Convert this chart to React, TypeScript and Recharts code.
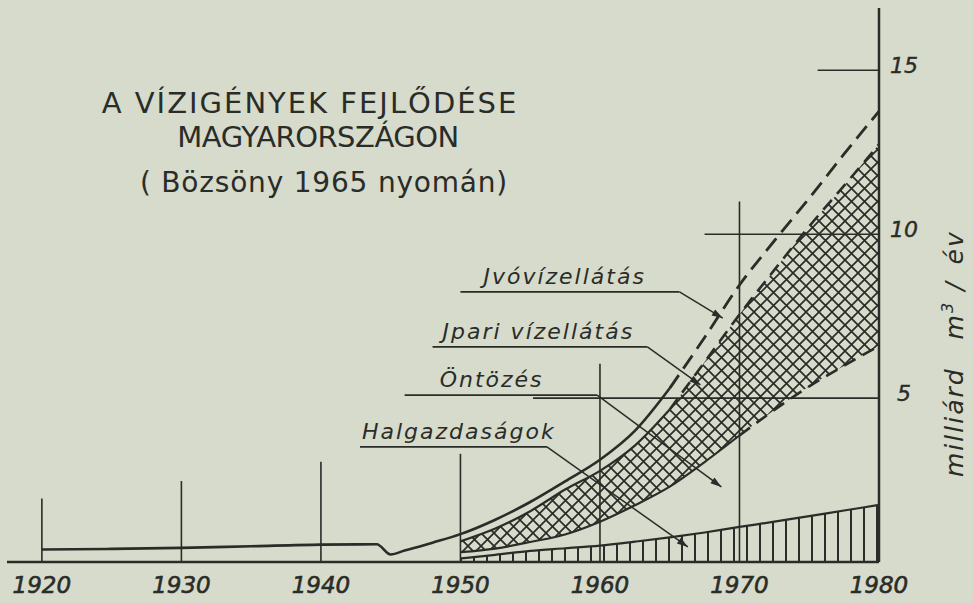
import { Area, ComposedChart, Line, ReferenceLine, XAxis, YAxis } from 'recharts';

// total demand before the sector split (milliárd m3/év)
const earlyYears = [1920, 1925, 1930, 1935, 1940, 1944, 1945, 1946, 1948];
const earlyTotal = [0.38, 0.4, 0.43, 0.48, 0.53, 0.54, 0.23, 0.35, 0.59];

// sector demands from 1950 on (milliárd m3/év)
const years = [1950, 1952.5, 1955, 1957.5, 1960, 1962.5, 1965, 1967.5, 1970, 1972.5, 1975, 1977.5, 1980];
const halgazdasagok = [0.11, 0.22, 0.34, 0.42, 0.5, 0.62, 0.75, 0.9, 1.07, 1.23, 1.4, 1.57, 1.74];
const ontozes = [0.19, 0.19, 0.27, 0.42, 0.73, 1.11, 1.55, 2.15, 2.79, 3.41, 3.96, 4.42, 4.85];
const ipari = [0.33, 0.61, 0.94, 1.37, 1.55, 1.82, 2.35, 3.05, 3.69, 4.27, 4.88, 5.49, 6.15];
const ivoviz = [0.22, 0.27, 0.28, 0.25, 0.34, 0.45, 0.65, 0.75, 0.9, 0.89, 0.86, 0.97, 1.01];

const xTicks = [1920, 1930, 1940, 1950, 1960, 1970, 1980];
const yTicks = [5, 10, 15];
const gridTops = [1.94, 2.47, 3.06, 3.3, 6.05, 11.0];
const levelLines = [
  { value: 5, from: 1955.2 },
  { value: 10, from: 1967.5 },
  { value: 15, from: 1975.6 },
];

const leaders = [
  { text: 'Jvóvízellátás', from: 1950.0, bend: 1965.7, level: 8.24, tipYear: 1968.8, tipValue: 7.44, dx: 23 },
  { text: 'Jpari vízellátás', from: 1948.0, bend: 1963.4, level: 6.56, tipYear: 1967.2, tipValue: 5.4, dx: 10 },
  { text: 'Öntözés', from: 1946.0, bend: 1959.8, level: 5.09, tipYear: 1968.7, tipValue: 2.29, dx: 35 },
  { text: 'Halgazdaságok', from: 1942.8, bend: 1956.2, level: 3.51, tipYear: 1966.3, tipValue: 0.46, dx: 2 },
];

const rows: any[] = [
  ...earlyYears.map((year, i) => ({ year, total: earlyTotal[i] })),
  ...years.map((year, i) => {
    const hal = halgazdasagok[i];
    const ont = hal + ontozes[i];
    const ip = ont + ipari[i];
    return { year, hal, ont, ip, total: ip + ivoviz[i] };
  }),
];

const INK = '#2a2c28';
const PAPER = '#d6dbcb';
const FONT = '"DejaVu Sans", sans-serif';

const upTo = (key: string, last: number) => (d: any) => (d.year <= last && d[key] != null ? d[key] : null);
const from = (key: string, first: number) => (d: any) => (d.year >= first && d[key] != null ? d[key] : null);

function XTick({ x, y, payload }: any) {
  return (
    <text
      x={x}
      y={y + 31}
      textAnchor="middle"
      fontFamily={FONT}
      fontStyle="italic"
      fontSize={23}
      fill={INK}
      stroke={INK}
      strokeWidth={0.6}
    >
      {payload.value}
    </text>
  );
}

function YTick({ x, y, payload }: any) {
  return (
    <text
      x={x + 25}
      y={y + 3}
      textAnchor="middle"
      fontFamily={FONT}
      fontStyle="italic"
      fontSize={22}
      fill={INK}
      stroke={INK}
      strokeWidth={0.4}
    >
      {payload.value}
    </text>
  );
}

const underline = (text: string, dx: number) => (p: any) => (
  <g>
    <line x1={p.x1} y1={p.y1} x2={p.x2} y2={p.y2} stroke={INK} strokeWidth={1.8} />
    <text
      x={p.x1 + dx}
      y={p.y1 - 8}
      fontFamily={FONT}
      fontStyle="italic"
      fontSize={22}
      letterSpacing={2}
      fill={INK}
    >
      {text}
    </text>
  </g>
);

const arrow = (p: any) => {
  const a = Math.atan2(p.y2 - p.y1, p.x2 - p.x1);
  const bx = p.x2 - 11 * Math.cos(a);
  const by = p.y2 - 11 * Math.sin(a);
  const nx = -Math.sin(a) * 3.5;
  const ny = Math.cos(a) * 3.5;
  return (
    <g>
      <line x1={p.x1} y1={p.y1} x2={p.x2} y2={p.y2} stroke={INK} strokeWidth={1.5} />
      <polygon points={`${p.x2},${p.y2} ${bx + nx},${by + ny} ${bx - nx},${by - ny}`} fill={INK} />
    </g>
  );
};

export default function App() {
  return (
    <div style={{ position: 'absolute', left: 0, top: 0, width: 973, height: 603, background: PAPER }}>
      <ComposedChart width={973} height={603} data={rows} margin={{ top: 8, right: 0, bottom: 0, left: 7 }}>
        <defs>
          <pattern id="cross" width="13" height="13" patternUnits="userSpaceOnUse">
            <path d="M-2,-2 L15,15 M15,-2 L-2,15" stroke={INK} strokeWidth={1.7} />
          </pattern>
          <pattern id="stripes" width="13" height="13" patternUnits="userSpaceOnUse">
            <line x1="6" y1="0" x2="6" y2="13" stroke={INK} strokeWidth={2} />
          </pattern>
        </defs>
        <XAxis
          dataKey="year"
          type="number"
          domain={[1917.5, 1980]}
          allowDataOverflow
          ticks={xTicks}
          interval={0}
          tickLine={false}
          tickSize={0}
          tickMargin={0}
          height={41}
          axisLine={{ stroke: INK, strokeWidth: 2.5 }}
          tick={<XTick />}
        />
        <YAxis
          orientation="right"
          type="number"
          domain={[0, 16.9]}
          allowDataOverflow
          ticks={yTicks}
          interval={0}
          tickLine={false}
          tickSize={0}
          tickMargin={0}
          width={94}
          axisLine={{ stroke: INK, strokeWidth: 2.5 }}
          tick={<YTick />}
        />

        {xTicks.slice(0, -1).map((year, i) => (
          <ReferenceLine
            key={year}
            segment={[{ x: year, y: 0 }, { x: year, y: gridTops[i] }]}
            stroke={INK}
            strokeWidth={1.6}
          />
        ))}
        {levelLines.map((l) => (
          <ReferenceLine
            key={l.value}
            segment={[{ x: l.from, y: l.value }, { x: 1980, y: l.value }]}
            stroke={INK}
            strokeWidth={1.6}
          />
        ))}

        <Area dataKey="hal" type="monotone" fill="url(#stripes)" fillOpacity={1} stroke="none" isAnimationActive={false} />
        <Area
          dataKey={(d: any) => (d.ip == null ? null : [d.ont, d.ip])}
          type="monotone"
          fill="url(#cross)"
          fillOpacity={1}
          stroke="none"
          isAnimationActive={false}
        />

        <Line dataKey="hal" type="monotone" stroke={INK} strokeWidth={2.2} dot={false} activeDot={false} isAnimationActive={false} />
        <Line dataKey={upTo('ont', 1970)} type="monotone" stroke={INK} strokeWidth={2.2} dot={false} activeDot={false} isAnimationActive={false} />
        <Line dataKey={from('ont', 1970)} type="monotone" stroke={INK} strokeWidth={2.6} strokeDasharray="13 8" dot={false} activeDot={false} isAnimationActive={false} />
        <Line dataKey={upTo('ip', 1965)} type="monotone" stroke={INK} strokeWidth={2.2} dot={false} activeDot={false} isAnimationActive={false} />
        <Line dataKey={from('ip', 1965)} type="monotone" stroke={INK} strokeWidth={2.6} strokeDasharray="13 8" dot={false} activeDot={false} isAnimationActive={false} />
        <Line dataKey={upTo('total', 1965)} type="monotone" stroke={INK} strokeWidth={2.6} dot={false} activeDot={false} isAnimationActive={false} />
        <Line dataKey={from('total', 1965)} type="monotone" stroke={INK} strokeWidth={2.8} strokeDasharray="16 8" dot={false} activeDot={false} isAnimationActive={false} />

        {leaders.map((l) => (
          <ReferenceLine
            key={l.text}
            segment={[{ x: l.from, y: l.level }, { x: l.bend, y: l.level }]}
            shape={underline(l.text, l.dx)}
          />
        ))}
        {leaders.map((l) => (
          <ReferenceLine
            key={l.text + '-arrow'}
            segment={[{ x: l.bend, y: l.level }, { x: l.tipYear, y: l.tipValue }]}
            shape={arrow}
          />
        ))}
      </ComposedChart>

      <svg width={973} height={603} style={{ position: 'absolute', left: 0, top: 0, pointerEvents: 'none' }}>
        <g fontFamily={FONT} fill={INK}>
          <text x={310} y={113} textAnchor="middle" fontSize={29} letterSpacing={2}>
            A VÍZIGÉNYEK FEJLŐDÉSE
          </text>
          <text x={318} y={147} textAnchor="middle" fontSize={29} letterSpacing={-0.5}>
            MAGYARORSZÁGON
          </text>
          <text x={324} y={192} textAnchor="middle" fontSize={28} letterSpacing={0.8}>
            ( Bözsöny 1965 nyomán)
          </text>
          <text transform="translate(963,477) rotate(-90)" fontSize={25} fontStyle="italic" letterSpacing={2}>
            milliárd
            <tspan dx={28}>m</tspan>
            <tspan dy={-10} fontSize={16}>3</tspan>
            <tspan dy={10} dx={10}>/</tspan>
            <tspan dx={16}>év</tspan>
          </text>
        </g>
      </svg>
    </div>
  );
}
